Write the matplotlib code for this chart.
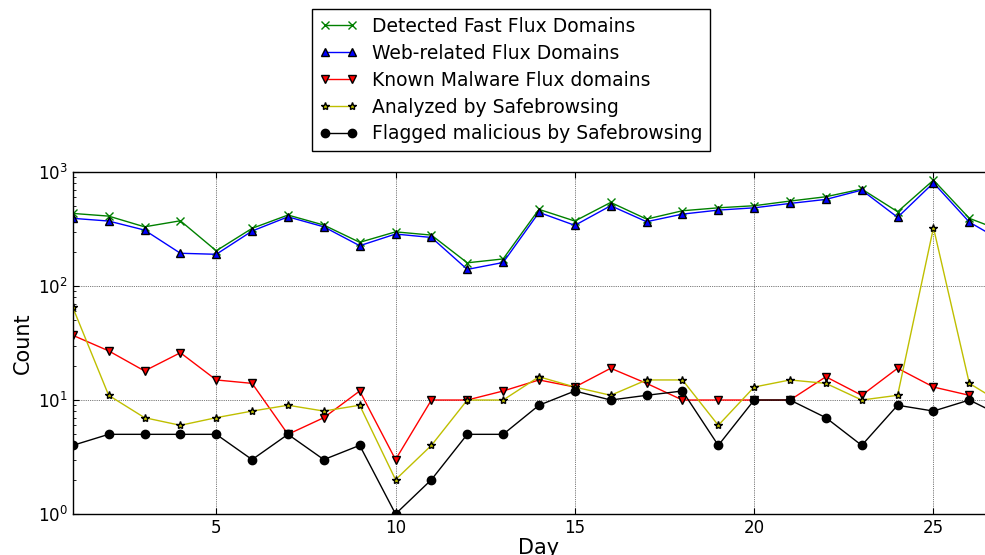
import numpy as np
import matplotlib
matplotlib.use("Agg")
import matplotlib.pyplot as plt

# values (counts per day, log scale)
days = list(range(1, 28))
detected = [434, 411, 331, 374, 204, 321, 420, 343, 242, 299, 280, 160, 173, 471,
            372, 542, 387, 458, 486, 507, 557, 608, 710, 449, 851, 393, 298]
web_related = [393, 372, 310, 194, 190, 304, 405, 331, 226, 286, 267, 140, 161, 443,
               341, 507, 367, 428, 464, 486, 531, 576, 695, 401, 805, 364, 240]
known_malware = [37, 27, 18, 26, 15, 14, 5, 7, 12, 3, 10, 10, 12, 15,
                 13, 19, 14, 10, 10, 10, 10, 16, 11, 19, 13, 11]
analyzed = [65, 11, 7, 6, 7, 8, 9, 8, 9, 2, 4, 10, 10, 16,
            13, 11, 15, 15, 6, 13, 15, 14, 10, 11, 325, 14, 9]
flagged = [4, 5, 5, 5, 5, 3, 5, 3, 4, 1, 2, 5, 5, 9,
           12, 10, 11, 12, 4, 10, 10, 7, 4, 9, 8, 10, 7]

plt.rcParams['font.family'] = ['DejaVu Sans']
plt.rcParams['font.size'] = 12

fig = plt.figure(figsize=(9.85, 5.55), dpi=100)
# axes runs a bit past the right edge of the figure, as in the reference
ax = fig.add_axes([0.0739, 0.0739, 0.9466, 0.616])

ax.plot(days, detected, 'g-', marker='x', ms=6, mec='g', lw=1,
        label='Detected Fast Flux Domains')
ax.plot(days[:len(web_related)], web_related, 'b-', marker='^', ms=6, mfc='b', mec='k',
        lw=1, label='Web-related Flux Domains')
ax.plot(days[:len(known_malware)], known_malware, 'r-', marker='v', ms=6, mfc='r', mec='k',
        lw=1, label='Known Malware Flux domains')
ax.plot(days[:len(analyzed)], analyzed, 'y-', marker='*', ms=6, mfc='y', mec='k',
        lw=1, label='Analyzed by Safebrowsing')
ax.plot(days[:len(flagged)], flagged, 'k-', marker='o', ms=6, mfc='k', mec='k',
        lw=1, label='Flagged malicious by Safebrowsing')

ax.set_yscale('log')
ax.set_ylim(1, 1000)
ax.set_xlim(1, 27)
ax.set_xticks([5, 10, 15, 20, 25])
ax.set_xlabel('Day', fontsize=15, labelpad=1)
ax.set_ylabel('Count', fontsize=15)
ax.grid(True, which='major', linestyle=':', color='k', linewidth=0.5)
ax.tick_params(which='both', direction='in', top=True, right=True)
ax.tick_params(which='major', length=4)
ax.tick_params(which='minor', length=2)
for s in ax.spines.values():
    s.set_linewidth(1)

fig.legend(loc='upper center', bbox_to_anchor=(0.519, 0.983), fontsize=13.5,
           numpoints=2, fancybox=False, framealpha=1, edgecolor='k',
           handlelength=2, borderaxespad=0, labelspacing=0.42)

fig.savefig('out.png', dpi=100)
